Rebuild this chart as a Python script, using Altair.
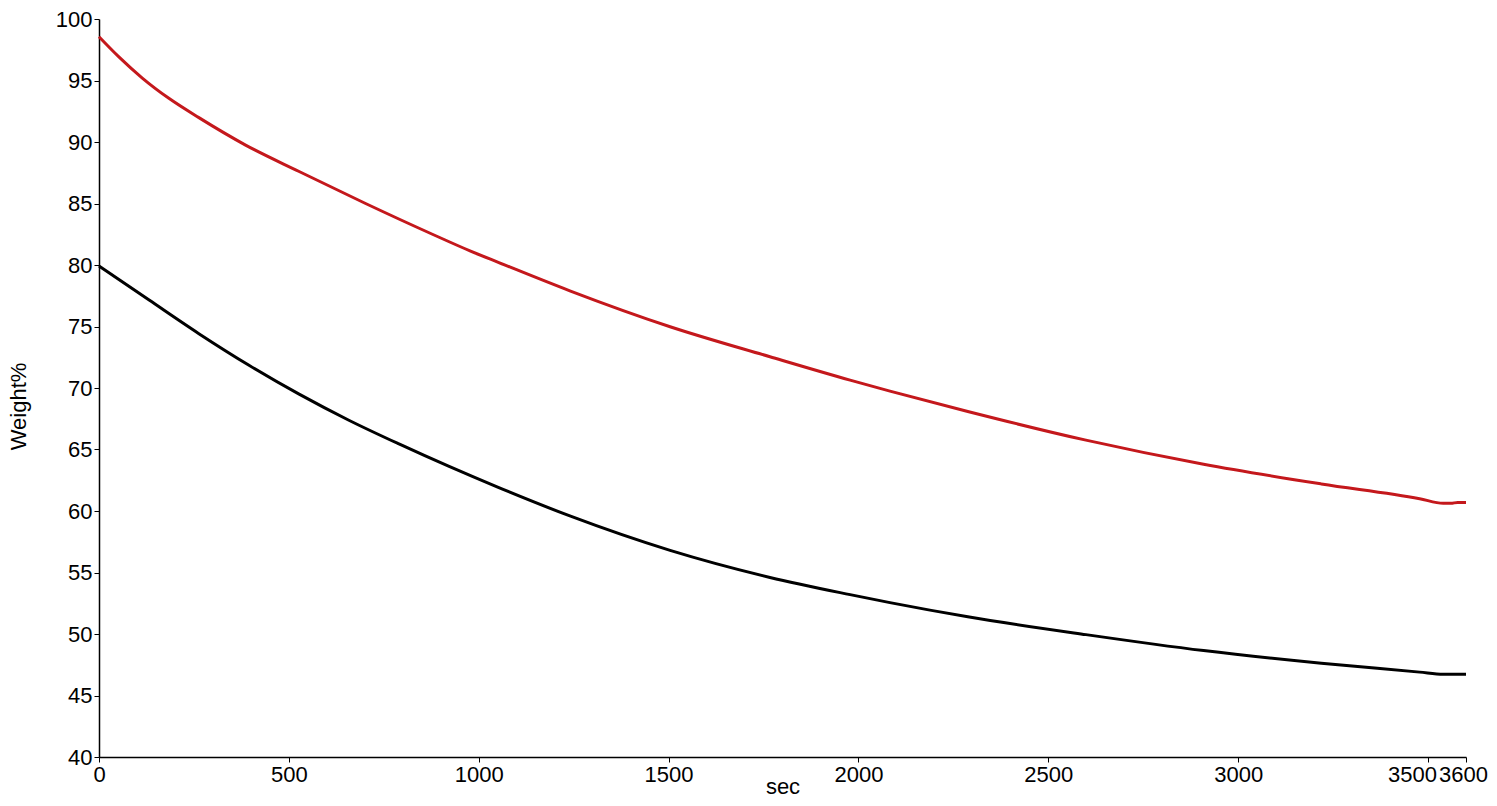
import altair as alt
import pandas as pd

# Data
sec_red = [0, 53, 114, 184, 263, 386, 527, 702, 878, 977, 1053, 1240, 1504,
           1767, 1978, 2083, 2288, 2599, 2909, 3219, 3478, 3540, 3560, 3578, 3600]
wt_red = [98.56, 96.9, 95.2, 93.55, 91.98, 89.75, 87.6, 85.0, 82.5, 81.15,
          80.2, 77.9, 74.98, 72.54, 70.64, 69.75, 68.09, 65.76, 63.8, 62.2,
          61.0, 60.62, 60.62, 60.7, 60.7]

sec_black = [0, 132, 263, 395, 527, 658, 790, 922, 1053, 1240, 1504,
             1767, 1978, 2083, 2288, 2599, 2909, 3219, 3478, 3540, 3600]
wt_black = [79.92, 77.15, 74.42, 71.85, 69.5, 67.38, 65.45, 63.62, 61.9,
            59.6, 56.8, 54.6, 53.2, 52.55, 51.4, 49.95, 48.65, 47.62, 46.9,
            46.72, 46.72]

series_names = ["red", "black"]
series_colors = ["#C4181C", "#000000"]
x_ticks = [0, 500, 1000, 1500, 2000, 2500, 3000, 3500, 3600]
y_ticks = [40, 45, 50, 55, 60, 65, 70, 75, 80, 85, 90, 95, 100]

df = pd.concat([
    pd.DataFrame({"sec": sec_red, "weight": wt_red, "series": "red",
                  "order": range(len(sec_red))}),
    pd.DataFrame({"sec": sec_black, "weight": wt_black, "series": "black",
                  "order": range(len(sec_black))}),
])

FONT = "Liberation Sans"

chart = alt.Chart(df).mark_line(strokeWidth=3, interpolate="monotone").encode(
    x=alt.X("sec:Q",
            scale=alt.Scale(domain=[0, 3600], nice=False, zero=False),
            axis=alt.Axis(values=x_ticks, title="sec", format="d", tickSize=5,
                          labelPadding=2, titlePadding=-9, labelOverlap=False,
                          labelFlush=False,
                          labelOffset={"condition": [
                              {"test": "datum.value == 3500", "value": -16},
                              {"test": "datum.value == 3600", "value": -3}],
                              "value": 0})),
    y=alt.Y("weight:Q",
            scale=alt.Scale(domain=[40, 100], nice=False, zero=False),
            axis=alt.Axis(values=y_ticks, title="Weight%", format="d", tickSize=5,
                          labelPadding=2, titlePadding=25, labelOverlap=False,
                          labelFlush=False, titleY=387)),
    color=alt.Color("series:N",
                    scale=alt.Scale(domain=series_names, range=series_colors),
                    legend=None),
    detail="series:N",
    order="order:Q",
).properties(
    width=1367,
    height=738,
    padding={"left": 91, "top": 11, "right": 23, "bottom": 40},
    autosize=alt.AutoSizeParams(type="none"),
).configure_view(
    stroke=None
).configure_axis(
    grid=False,
    labelFont=FONT,
    labelFontSize=22,
    labelColor="#000000",
    titleFont=FONT,
    titleFontSize=22,
    titleFontWeight="normal",
    titleColor="#000000",
    domainColor="#000000",
    domainWidth=1.5,
    tickColor="#000000",
    tickWidth=1,
)

chart.save("out.html", embed_options={"renderer": "svg", "actions": False})
